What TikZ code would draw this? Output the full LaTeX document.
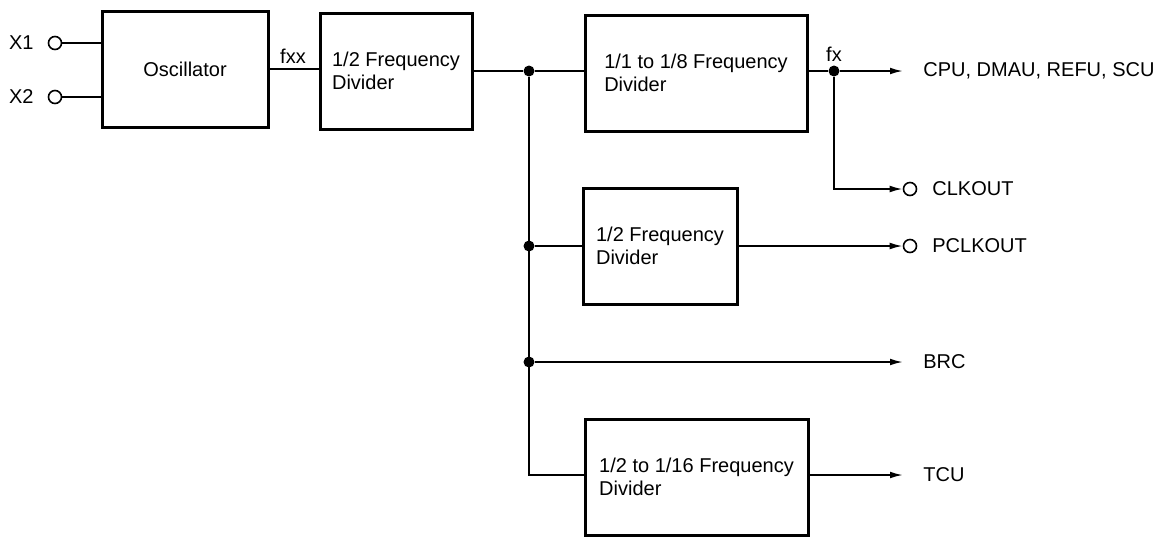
\documentclass[tikz,border=0pt]{standalone}
\usepackage{fontspec}
\setmainfont{Liberation Sans}
\usetikzlibrary{arrows.meta}
\begin{document}
\begin{tikzpicture}[x=0.5pt,y=-0.5pt,
  font=\fontsize{10}{11.5}\selectfont,
  blk/.style={draw, line width=1.5pt, inner sep=0pt, align=left, minimum width=#1, minimum height=58pt},
  wire/.style={line width=0.9pt},
  arr/.style={wire, -{Latex[length=6.5pt,width=3.4pt]}},
  pin/.style={circle, draw, line width=0.8pt, minimum size=6.5pt, inner sep=0pt},
  dot/.style={circle, fill, minimum size=5.5pt, inner sep=0pt},
  lbl/.style={inner sep=0pt}]
\useasboundingbox (0,0) rectangle (1168,538);

% blocks
\node[blk=83pt, align=center] (osc) at (185,69) {Oscillator};
\node[blk=76pt] (divA) at (396,71) {1/2 Frequency\\Divider};
\node[blk=111pt] (div18) at (696,73) {1/1 to 1/8 Frequency\\Divider};
\node[blk=77pt] (divB) at (660,246) {1/2 Frequency\\Divider};
\node[blk=111.5pt] (div16) at (696.5,477) {1/2 to 1/16 Frequency\\Divider};

% inputs
\node[pin] (x1c) at (55,43) {};
\node[pin] (x2c) at (55,97) {};
\node[lbl, anchor=east] (x1) at (34,43) {X1};
\node[lbl, anchor=east] (x2) at (34,97) {X2};
\draw[wire] (x1c) -- (x1c -| osc.west);
\draw[wire] (x2c) -- (x2c -| osc.west);

% fxx
\draw[wire] (osc.east) -- (osc.east -| divA.west);
\node[lbl, anchor=south] (fxx) at (293,64) {fxx};

% junctions
\node[dot] (j1) at (529,71) {};
\node[dot] (j2) at (529,246) {};
\node[dot] (j3) at (529,362) {};
\coordinate (j4) at (529,475);

\draw[wire] (divA.east) -- (j1) -- (j1 -| div18.west);
\draw[wire] (j1) -- (j4) -- (j4 -| div16.west);
\draw[wire] (j2) -- (j2 -| divB.west);

% outputs
\node[dot] (fx) at (834,71) {};
\node[lbl, anchor=south] (fxl) at (834,62) {fx};
\node[lbl, anchor=west] (cpu) at (923,71) {CPU, DMAU, REFU, SCU};
\node[pin] (clkc) at (910,189) {};
\node[lbl, anchor=west] (clk) at (932,189) {CLKOUT};
\node[pin] (pclkc) at (910,246) {};
\node[lbl, anchor=west] (pclk) at (932,246) {PCLKOUT};
\node[lbl, anchor=west] (brc) at (923,362) {BRC};
\node[lbl, anchor=west] (tcu) at (923,475) {TCU};

\draw[wire] (fx -| div18.east) -- (fx);
\draw[arr, shorten >=10pt] (fx) -- (cpu.west);
\draw[arr] (fx) |- (clkc.west);
\draw[arr] (divB.east) -- (pclkc.west);
\draw[arr, shorten >=10pt] (j3) -- (brc.west);
\draw[arr, shorten >=10pt] (j4 -| div16.east) -- (tcu.west);
\end{tikzpicture}
\end{document}
